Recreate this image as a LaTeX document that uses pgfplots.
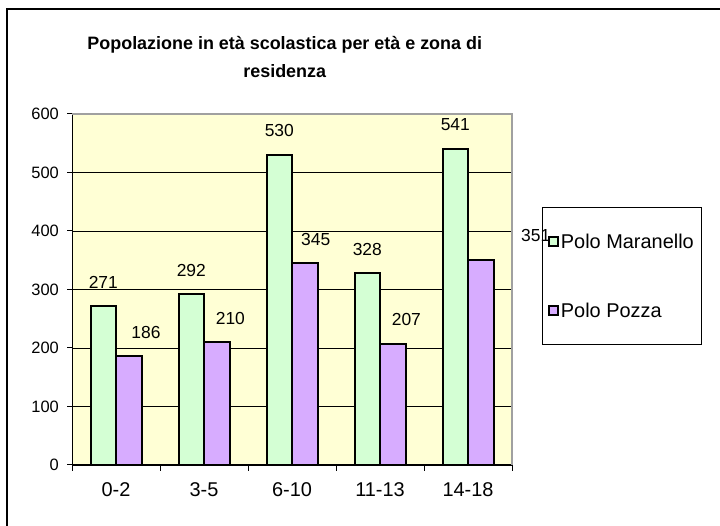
\documentclass[border=0pt]{standalone}
\usepackage{fontspec}
\setmainfont{Liberation Sans}
\usepackage{pgfplots}
\pgfplotsset{compat=1.18}
\definecolor{plotbg}{RGB}{255,255,213}
\definecolor{barA}{RGB}{212,255,212}
\definecolor{barB}{RGB}{215,172,255}
\definecolor{bordgray}{RGB}{160,160,160}
\begin{document}
\begin{tikzpicture}[x=1bp,y=1bp]
\path[use as bounding box] (0,0) rectangle (720,526);
\draw[black, line width=1.2bp] (7,0) -- (7,517) -- (720,517);
\begin{axis}[
  at={(72bp,61bp)}, anchor=south west,
  scale only axis, width=440bp, height=351bp,
  xmin=-0.5, xmax=4.5, ymin=0, ymax=600,
  axis x line*=bottom, axis y line*=left,
  axis line style={black, line width=1bp},
  axis background/.style={fill=plotbg},
  xtick={0,1,2,3,4},
  xticklabels={0-2,3-5,6-10,11-13,14-18},
  major x tick style={draw=none},
  minor xtick={-0.5,0.5,1.5,2.5,3.5,4.5},
  minor tick length=6bp,
  minor x tick style={black, line width=1bp},
  ytick={0,100,...,600},
  major tick length=5bp,
  tick align=outside,
  tick style={black, line width=1bp},
  ymajorgrids, major grid style={black, line width=0.9bp},
  xticklabel style={font=\fontsize{20}{22}\selectfont, anchor=north, inner sep=0pt, yshift=-12bp},
  yticklabel style={font=\fontsize{16.5}{19}\selectfont, anchor=east, inner sep=0pt, xshift=-8bp},
  /pgf/number format/assume math mode=true,
  clip=false,
  title={Popolazione in età scolastica per età e zona di\\residenza},
  title style={align=center, font=\fontsize{18}{28}\selectfont\bfseries, at={(axis description cs:0.4835,1.205)}, anchor=north, inner sep=0pt},
  legend style={at={(axis description cs:1.0675,0.735)}, anchor=north west,
    draw=black, line width=0.8bp, fill=none,
    font=\fontsize{20}{22}\selectfont,
    row sep=51bp, inner xsep=6bp, inner ysep=25bp,
    nodes={inner sep=2bp, text height=14bp, text depth=0bp}},
  legend cell align=left,
]
\addplot[ybar, bar width=25.5bp, bar shift=-12.75bp, fill=barA, draw=black, line width=2bp,
  legend image code/.code={\draw[fill=barA, draw=black, line width=1.8bp] (0bp,-4.5bp) rectangle (9bp,4.5bp);}]
  coordinates {(0,271) (1,292) (2,530) (3,328) (4,541)};
\addlegendentry{Polo Maranello}
\addplot[ybar, bar width=25.5bp, bar shift=12.75bp, fill=barB, draw=black, line width=2bp,
  legend image code/.code={\draw[fill=barB, draw=black, line width=1.8bp] (0bp,-4.5bp) rectangle (9bp,4.5bp);}]
  coordinates {(0,186) (1,210) (2,345) (3,207) (4,351)};
\addlegendentry{Polo Pozza}
\addplot[draw=none, mark=none, forget plot, point meta=explicit symbolic,
  nodes near coords, nodes near coords style={font=\fontsize{17.5}{20}\selectfont, anchor=base, yshift=18bp, inner sep=0pt, text=black}]
  coordinates {(-0.144,271)[271] (0.856,292)[292] (1.856,530)[530] (2.856,328)[328] (3.856,541)[541]};
\addplot[draw=none, mark=none, forget plot, point meta=explicit symbolic,
  nodes near coords, nodes near coords style={font=\fontsize{17.5}{20}\selectfont, anchor=base, yshift=18bp, inner sep=0pt, text=black}]
  coordinates {(0.34,186)[186] (1.30,210)[210] (2.27,345)[345] (3.30,207)[207] (4.77,351)[351]};
\draw[bordgray, line width=2bp] (rel axis cs:0,1) -- (rel axis cs:1,1) -- (rel axis cs:1,0);
\end{axis}
\end{tikzpicture}
\end{document}
